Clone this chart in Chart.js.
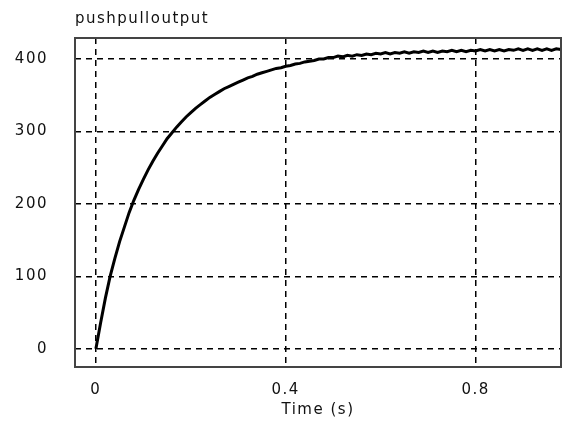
<!DOCTYPE html>
<html>
<head>
<meta charset="utf-8">
<script src="https://cdn.jsdelivr.net/npm/chart.js@4.4.1/dist/chart.umd.min.js"></script>
<style>
  html, body { margin: 0; padding: 0; background: #fff; }
  #myChart { display: block; }
</style>
</head>
<body>
<canvas id="myChart" width="564" height="421"></canvas>
<script>
// time axis, one sample every 0.01 s
var times = [];
for (var i = 0; i <= 98; i++) times.push(i / 100);

// output voltage
var outputValues = [
    0, 36, 70, 100, 125, 148, 168, 188, 205, 220,
    234, 247, 259, 270, 280, 290, 298, 306, 313, 320,
    326, 332, 337, 342, 347, 351, 355, 359, 362, 365,
    368, 371, 374, 376, 379, 381, 383, 385, 387, 388,
    390, 391, 393, 394, 396, 397, 398, 400, 400, 402,
    402, 404, 403, 405, 404, 406, 405, 407, 406, 408,
    407, 409, 407, 409, 408, 410, 408, 410, 409, 411,
    409, 411, 409, 411, 410, 412, 410, 412, 410, 412,
    411, 413, 411, 413, 411, 413, 411, 413, 412, 414,
    412, 414, 412, 414, 412, 414, 412, 414, 413
];

var xTicks = [0, 0.4, 0.8];
var yTicks = [0, 100, 200, 300, 400];
var chartTitle = 'pushpulloutput';
var xTitle = 'Time (s)';

var points = times.map(function(t, i) { return {x: t, y: outputValues[i]}; });

var textFont = {family: 'DejaVu Sans', size: 15};
var textColor = '#111';

// the picture's text is wide, so space the letters a bit
var spacingPlugin = {
    id: 'spacing',
    beforeLayout: function(chart) { chart.ctx.letterSpacing = '1.5px'; },
    beforeDraw: function(chart) { chart.ctx.letterSpacing = '1.5px'; }
};

// box round the plot and title on top left
var framePlugin = {
    id: 'frame',
    afterDraw: function(chart) {
        var ctx = chart.ctx;
        var a = chart.chartArea;
        ctx.save();
        ctx.setLineDash([]);
        ctx.strokeStyle = '#444';
        ctx.lineWidth = 2;
        ctx.strokeRect(a.left, a.top, a.right - a.left, a.bottom - a.top);
        ctx.fillStyle = textColor;
        ctx.font = '15px "DejaVu Sans"';
        ctx.textAlign = 'left';
        ctx.textBaseline = 'alphabetic';
        ctx.fillText(chartTitle, a.left, 23);
        ctx.restore();
    }
};

var config = {
    type: 'line',
    data: {
        datasets: [{
            data: points,
            borderColor: '#000',
            borderWidth: 3,
            pointRadius: 0,
            tension: 0,
            fill: false
        }]
    },
    options: {
        responsive: false,
        animation: false,
        layout: {padding: {left: 0, right: 3, top: 38, bottom: 0}},
        plugins: {
            legend: {display: false},
            tooltip: {enabled: false}
        },
        scales: {
            x: {
                type: 'linear',
                min: -0.044,
                max: 0.98,
                afterBuildTicks: function(s) { s.ticks = xTicks.map(function(v) { return {value: v}; }); },
                afterFit: function(s) { s.height = 54; },
                grid: {color: '#000', lineWidth: 1.5, drawTicks: false},
                border: {display: false, dash: [6, 5]},
                ticks: {
                    padding: 14,
                    color: textColor,
                    font: textFont,
                    maxRotation: 0,
                    callback: function(v) { return v === 0 ? '0' : v.toFixed(1); }
                },
                title: {display: true, text: xTitle, color: textColor, font: textFont, padding: {top: 2, bottom: 2}}
            },
            y: {
                min: -25,
                max: 429,
                afterBuildTicks: function(s) { s.ticks = yTicks.map(function(v) { return {value: v}; }); },
                afterFit: function(s) { s.width = 75; },
                grid: {color: '#000', lineWidth: 1.5, drawTicks: false},
                border: {display: false, dash: [6, 5]},
                ticks: {padding: 27, color: textColor, font: textFont}
            }
        }
    },
    plugins: [spacingPlugin, framePlugin]
};

var ctx = document.getElementById('myChart').getContext('2d');
var outputChart = new Chart(ctx, config);
</script>
</body>
</html>
